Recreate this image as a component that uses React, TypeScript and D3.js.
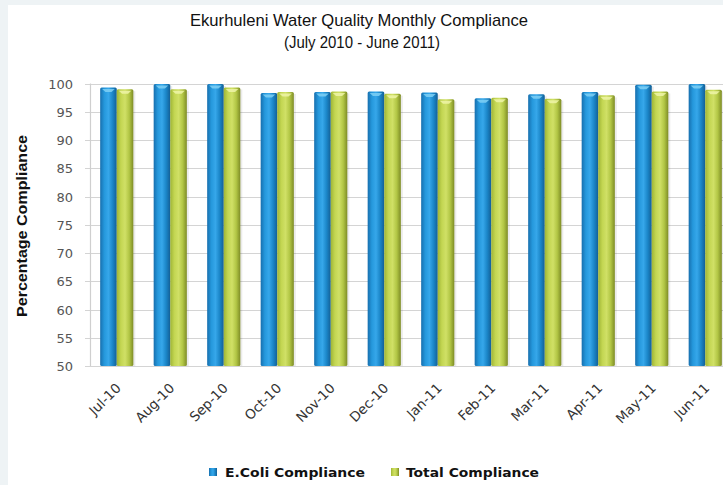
import React, { useEffect, useRef } from 'react'
import * as d3 from 'd3'

const months = ['Jul-10', 'Aug-10', 'Sep-10', 'Oct-10', 'Nov-10', 'Dec-10', 'Jan-11', 'Feb-11', 'Mar-11', 'Apr-11', 'May-11', 'Jun-11']
const ecoli = [99.3, 99.9, 99.9, 98.3, 98.5, 98.6, 98.4, 97.4, 98.1, 98.5, 99.8, 99.9]
const total = [99.0, 99.0, 99.3, 98.5, 98.6, 98.2, 97.2, 97.5, 97.3, 97.9, 98.6, 98.9]
const yTicks = [50, 55, 60, 65, 70, 75, 80, 85, 90, 95, 100]
const seriesNames = ['E.Coli Compliance', 'Total Compliance']

const App = () => {
    const ref = useRef(null)
    const width = 723
    const height = 485
    const plot = { left: 90, top: 83.5, right: 732, bottom: 366 }

    useEffect(() => {
        document.body.style.margin = '0'
        const svg = d3.select(ref.current)
        svg.selectAll('*').remove()

        const defs = svg.append('defs')
        const grads = [
            { id: 'gBlue', stops: ['#176fae', '#2598dc', '#36a7ea', '#1b86c8', '#135f96'] },
            { id: 'gGreen', stops: ['#9fb536', '#c3d652', '#d0e066', '#b2c645', '#7e8c26'] },
        ]
        grads.forEach(g => {
            const lg = defs.append('linearGradient').attr('id', g.id)
                .attr('x1', '0%').attr('x2', '100%').attr('y1', '0%').attr('y2', '0%')
            g.stops.forEach((c, i) => {
                lg.append('stop').attr('offset', (i / (g.stops.length - 1)) * 100 + '%').attr('stop-color', c)
            })
        })

        // background panel
        svg.append('rect').attr('width', width).attr('height', height).attr('fill', '#eef3f5')
        svg.append('rect').attr('x', 8).attr('y', 5).attr('width', width - 8).attr('height', height - 5).attr('fill', '#ffffff')

        const x = d3.scaleBand().domain(months).range([plot.left, plot.right]).paddingInner(0.38).paddingOuter(0.19)
        const xs = d3.scaleBand().domain(seriesNames).range([0, x.bandwidth()])
        const y = d3.scaleLinear().domain([50, 100]).range([plot.bottom, plot.top])

        // grid
        svg.append('g').selectAll('line').data(yTicks).join('line')
            .attr('x1', plot.left - 5).attr('x2', width)
            .attr('y1', d => Math.round(y(d)) + 0.5).attr('y2', d => Math.round(y(d)) + 0.5)
            .attr('stroke', '#d4d4d4').attr('stroke-width', 1.2)

        svg.append('g').selectAll('text').data(yTicks).join('text')
            .attr('x', 73).attr('y', d => y(d) + 5)
            .attr('text-anchor', 'end')
            .style('font-family', '"DejaVu Sans", sans-serif').style('font-size', '13px').attr('fill', '#555')
            .text(d => d)

        svg.append('line').attr('x1', plot.left + 0.5).attr('x2', plot.left + 0.5)
            .attr('y1', plot.top).attr('y2', plot.bottom).attr('stroke', '#cfcfcf').attr('stroke-width', 1.2)

        const data = months.map((m, i) => ({ m, vals: [ecoli[i], total[i]] }))
        const groups = svg.append('g').selectAll('g').data(data).join('g')
            .attr('transform', d => `translate(${x(d.m)},0)`)

        groups.each(function (d) {
            const g = d3.select(this)
            d.vals.forEach((v, i) => {
                const bx = xs(seriesNames[i])
                const bw = xs.bandwidth()
                const top = y(v)
                // shadow
                g.append('rect').attr('x', bx + 2).attr('y', top + 2).attr('width', bw).attr('height', plot.bottom - top - 2)
                    .attr('fill', '#000').attr('opacity', 0.08)
                g.append('rect').attr('x', bx).attr('y', top).attr('width', bw).attr('height', plot.bottom - top)
                    .attr('rx', 1.5)
                    .attr('fill', i === 0 ? 'url(#gBlue)' : 'url(#gGreen)')
                // top cap highlight
                g.append('path')
                    .attr('d', `M${bx + 2},${top + 1.5} L${bx + bw - 2},${top + 1.5} L${bx + bw / 2 + 3},${top + 4.5} L${bx + bw / 2 - 3},${top + 4.5} Z`)
                    .attr('fill', i === 0 ? '#7fd0f5' : '#eef5a8').attr('opacity', 0.85)
            })
        })

        // x labels
        svg.append('g').selectAll('text').data(months).join('text')
            .attr('transform', d => `translate(${x(d) + x.bandwidth() / 2 + 5},${389}) rotate(-45)`)
            .attr('text-anchor', 'end')
            .style('font-family', '"DejaVu Sans", sans-serif').style('font-size', '13.5px').attr('fill', '#333')
            .text(d => d)

        // titles
        svg.append('text').attr('x', 359).attr('y', 26).attr('text-anchor', 'middle')
            .style('font-family', '"Liberation Sans", Arial, sans-serif').style('font-size', '17px').attr('fill', '#111')
            .attr('textLength', 338).attr('lengthAdjust', 'spacingAndGlyphs')
            .text('Ekurhuleni Water Quality Monthly Compliance')
        svg.append('text').attr('x', 362).attr('y', 48).attr('text-anchor', 'middle')
            .style('font-family', '"Liberation Sans", Arial, sans-serif').style('font-size', '17px').attr('fill', '#111')
            .attr('textLength', 156).attr('lengthAdjust', 'spacingAndGlyphs')
            .text('(July 2010 - June 2011)')

        svg.append('text').attr('transform', 'translate(27,226) rotate(-90)').attr('text-anchor', 'middle')
            .style('font-family', '"Liberation Sans", Arial, sans-serif').style('font-size', '15px').style('font-weight', 'bold').attr('fill', '#111')
            .attr('textLength', 182).attr('lengthAdjust', 'spacingAndGlyphs')
            .text('Percentage Compliance')

        // legend
        const legend = [
            { name: seriesNames[0], fill: 'url(#gBlue)', x: 209, tx: 225, w: 140 },
            { name: seriesNames[1], fill: 'url(#gGreen)', x: 391, tx: 406, w: 133 },
        ]
        legend.forEach(l => {
            svg.append('rect').attr('x', l.x).attr('y', 468).attr('width', 8).attr('height', 8).attr('fill', l.fill)
            svg.append('text').attr('x', l.tx).attr('y', 477)
                .style('font-family', '"DejaVu Sans", sans-serif').style('font-size', '12px').style('font-weight', 'bold').attr('fill', '#111')
                .attr('textLength', l.w).attr('lengthAdjust', 'spacingAndGlyphs')
                .text(l.name)
        })
    }, [])

    return <svg ref={ref} width={width} height={height} style={{ display: 'block' }} />
}

export default App
